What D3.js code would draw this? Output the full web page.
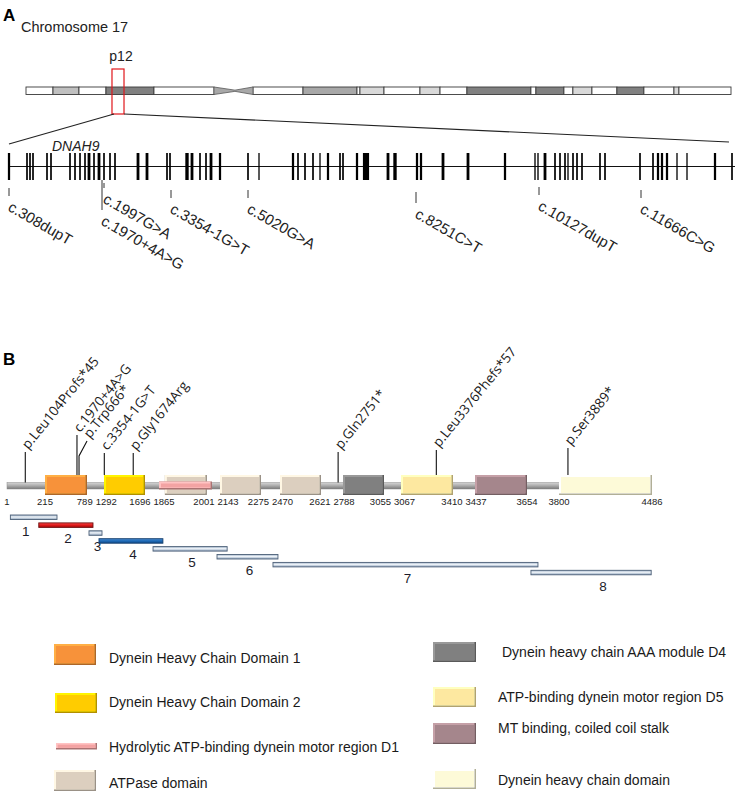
<!DOCTYPE html>
<html><head><meta charset="utf-8">
<script src="https://cdn.jsdelivr.net/npm/d3@7"></script>
<style>body{margin:0;background:#fff}svg{display:block}</style>
</head><body>
<svg id="fig" width="736" height="797"></svg>
<script>
// ================= DATA =================
// Chromosome 17 ideogram bands (Mb)
const bandStart = [0, 3.19, 6.26, 9.45, 15.12, 26.82, 32.73, 39.11, 39.46, 42.30, 46.55, 48.92, 52.10, 59.66, 60.25, 63.56, 64.62, 66.87, 69.82, 73.01, 76.56, 77.15];
const bandEnd   = [3.19, 6.26, 9.45, 15.12, 22.21, 32.73, 39.11, 39.46, 42.30, 46.55, 48.92, 52.10, 59.66, 60.25, 63.56, 64.62, 66.87, 69.82, 73.01, 76.56, 77.15, 83.3];
const bandStain = ["gneg","gpos50","gneg","gpos75","gneg","gneg","gpos66","gneg","gpos25","gneg","gpos25","gneg","gpos75","gneg","gpos75","gneg","gpos25","gneg","gpos75","gneg","gpos25","gneg"];
const centromere = [22.21, 24.69, 26.82];      // start, pinch, end (Mb)
const locus = [10.16, 11.58];                   // highlighted p12 region (Mb)
const chromName = "Chromosome 17";
const bandName = "p12";
const geneName = "DNAH9";

// DNAH9 exons: position along gene (kb) and exon size (bp, drawn width)
const exonPos = [0, 9, 10.5, 12, 19, 21, 30.5, 33, 35.5, 38, 40, 42.5, 45, 47.5, 50.5, 53, 64.5, 69, 79, 80.5, 89, 91.5, 95.5, 98.5, 101, 105.5, 119.5, 125, 142, 144.5, 148, 152, 155.5, 159.5, 165.5, 167, 174, 178.5, 189.5, 193, 204, 206, 217, 229.5, 248, 263, 264.5, 268, 273, 275.5, 278, 279.5, 282, 284, 286.5, 295.5, 298, 315.5, 322, 324.5, 326.5, 329, 334, 339, 353, 361.5];
const exonLen = [200, 150, 150, 150, 150, 150, 150, 150, 150, 150, 250, 150, 250, 150, 150, 150, 250, 250, 150, 150, 300, 250, 150, 150, 250, 200, 150, 80, 200, 150, 150, 150, 100, 200, 150, 150, 200, 550, 250, 300, 200, 200, 250, 250, 200, 120, 120, 250, 150, 150, 150, 100, 150, 150, 150, 150, 150, 150, 150, 200, 200, 200, 100, 100, 200, 150];

// Variants on the gene (kb)
const gMutLabel = ["c.308dupT", "c.1970+4A>G", "c.1997G>A", "c.3354-1G>T", "c.5020G>A", "c.8251C>T", "c.10127dupT", "c.11666C>G"];
const gMutPos   = [0, 46.5, 47.5, 81, 119.5, 203.5, 265, 316];

// Protein: boundary tick labels (aa)
const boundaries = [1, 215, 789, 1292, 1696, 1865, 2001, 2143, 2275, 2470, 2621, 2788, 3055, 3067, 3410, 3437, 3654, 3800, 4486];
// Domains (aa)
const domainType  = ["DHC1", "DHC2", "ATPase", "D1", "ATPase", "ATPase", "D4", "D5", "MT", "DHCd"];
const domainStart = [215, 1292, 1880, 1865, 2143, 2470, 2788, 3067, 3437, 3800];
const domainEnd   = [789, 1696, 1988, 2001, 2275, 2621, 3055, 3410, 3654, 4486];

// Protein variants (aa position as drawn)
const pMutLabel = ["p.Leu104Profs*45", "c.1970+4A>G", "p.Trp666*", "c.3354-1G>T", "p.Gly1674Arg", "p.Gln2751*", "p.Leu3376Phefs*57", "p.Ser3889*"];
const pMutPos   = [104, 652, 680, 1295, 1580, 2751, 3300, 3866];

// Fragments (aa)
const segLabel = ["1", "2", "3", "4", "5", "6", "7", "8"];
const segStart = [20, 180, 848, 1144, 1793, 2090, 2398, 3672];
const segEnd   = [379, 966, 1233, 1875, 2166, 2449, 3704, 4480];

// Legend
const legendType  = ["DHC1", "DHC2", "D1", "ATPase", "D4", "D5", "MT", "DHCd"];
const legendLabel = ["Dynein Heavy Chain Domain 1", "Dynein Heavy Chain Domain 2", "Hydrolytic ATP-binding dynein motor region D1", "ATPase domain",
                     "Dynein heavy chain AAA module D4", "ATP-binding dynein motor region D5", "MT binding, coiled coil stalk", "Dynein heavy chain domain"];

// ================= STYLE / LAYOUT =================
const stainColor = {gneg:"#ffffff", gpos25:"#d9d9d9", gpos50:"#c0c0c0", gpos66:"#a8a8a8", gpos75:"#808080"};
const domainColor = {DHC1:"#f7923a", DHC2:"#ffcc00", D1:"#f3a3a3", ATPase:"#dccfbf", D4:"#808080", D5:"#fde8a0", MT:"#a5868c", DHCd:"#fdfad8"};
const segColor = ["light","red","light","blue","light","light","light","light"];
const SANS = "'Liberation Sans', Arial, sans-serif";
const OPEN = "'Open Sans', 'Liberation Sans', sans-serif";

const svg = d3.select("#fig");
const defs = svg.append("defs");

function vGrad(id, stops) {
  const g = defs.append("linearGradient").attr("id", id).attr("x1",0).attr("y1",0).attr("x2",0).attr("y2",1);
  stops.forEach(([o,c]) => g.append("stop").attr("offset", o).attr("stop-color", c));
}
vGrad("rod", [[0,"#d6d6d6"],[0.45,"#b0b0b0"],[1,"#7a7a7a"]]);
vGrad("segLight", [[0,"#9fb2c8"],[0.45,"#eef3f8"],[1,"#8ea3bc"]]);
vGrad("segRed", [[0,"#ff4a4a"],[0.5,"#e01a1a"],[1,"#a00d0d"]]);
vGrad("segBlue", [[0,"#4a8ad0"],[0.5,"#1e6bb8"],[1,"#124a88"]]);

function bevel(g, x, y, w, h, color) {
  const c = d3.color(color);
  g.append("rect").attr("x", x).attr("y", y).attr("width", w).attr("height", h).attr("fill", c.darker(1.0));
  g.append("rect").attr("x", x).attr("y", y).attr("width", w - 1.5).attr("height", h - 1.5).attr("fill", c.brighter(0.5));
  const b = Math.min(2, h / 4);
  g.append("rect").attr("x", x + b).attr("y", y + b).attr("width", w - 2 * b).attr("height", h - 2 * b).attr("fill", color);
}

// ================= PANEL A =================
svg.append("text").attr("x", 3).attr("y", 21).attr("font-family", SANS).attr("font-weight", "bold").attr("font-size", 17).text("A");
svg.append("text").attr("x", 21).attr("y", 32).attr("font-family", SANS).attr("font-size", 14.5).attr("fill", "#222").text(chromName);

const xC = d3.scaleLinear().domain([0, 83.3]).range([26, 731]);
const cTop = 87, cH = 7.5;
const gA = svg.append("g");
bandStart.forEach((s, i) => {
  gA.append("rect").attr("x", xC(s)).attr("y", cTop).attr("width", xC(bandEnd[i]) - xC(s)).attr("height", cH)
    .attr("fill", stainColor[bandStain[i]]).attr("stroke", "#3a3a3a").attr("stroke-width", 0.9);
});
// centromere
const [c0, cm, c1] = centromere.map(xC);
gA.append("path").attr("d", `M${c0},${cTop}L${cm},${cTop + cH / 2 - 0.6}L${c1},${cTop}L${c1},${cTop + cH}L${cm},${cTop + cH / 2 + 0.6}L${c0},${cTop + cH}Z`)
  .attr("fill", "#a8a8a8").attr("stroke", "#555").attr("stroke-width", 0.8);

// locus highlight
const lx0 = xC(locus[0]), lx1 = xC(locus[1]);
svg.append("text").attr("x", (lx0 + lx1) / 2 + 3).attr("y", 61).attr("text-anchor", "middle").attr("font-family", SANS).attr("font-size", 14).attr("fill", "#222").text(bandName);
svg.append("rect").attr("x", lx0).attr("y", 69).attr("width", lx1 - lx0).attr("height", 45).attr("fill", "none").attr("stroke", "#e0161b").attr("stroke-width", 1.2);

// gene
const xG = d3.scaleLinear().domain([0, 362]).range([9, 733]);
const wEx = d3.scaleLinear().domain([0, 500]).range([0, 5.6]);
const geneY = 166.5;
svg.append("line").attr("x1", lx0 + 2).attr("y1", 114).attr("x2", xG(0)).attr("y2", 144).attr("stroke", "#222").attr("stroke-width", 1.2);
svg.append("line").attr("x1", lx1).attr("y1", 114).attr("x2", xG(360)).attr("y2", 142).attr("stroke", "#222").attr("stroke-width", 1.2);
svg.append("text").attr("x", 52).attr("y", 151).attr("font-family", SANS).attr("font-style", "italic").attr("font-size", 14).attr("fill", "#222").text(geneName);
svg.append("line").attr("x1", xG(0)).attr("x2", xG(362) + 2).attr("y1", geneY).attr("y2", geneY).attr("stroke", "#111").attr("stroke-width", 1);
svg.append("g").selectAll("rect").data(exonPos).join("rect")
  .attr("x", (d, i) => xG(d) - Math.max(1.3, wEx(exonLen[i])) / 2).attr("y", 153).attr("width", (d, i) => Math.max(1.3, wEx(exonLen[i]))).attr("height", 27)
  .attr("fill", "#000");

// gene variants (layout: tick extents)
const gTick = [[188,196],[180,210],[183,188],[190,198],[190,198],[192,203],[187,195],[190,198]];
gMutPos.forEach((p, i) => {
  const x = xG(p);
  svg.append("line").attr("x1", x).attr("x2", x).attr("y1", gTick[i][0]).attr("y2", gTick[i][1]).attr("stroke", "#333").attr("stroke-width", 1);
  svg.append("text").attr("transform", `translate(${x - 2},${gTick[i][1] + 14}) rotate(30)`)
    .attr("font-family", SANS).attr("font-size", 15).attr("fill", "#222").text(gMutLabel[i]);
});

// ================= PANEL B =================
svg.append("text").attr("x", 3).attr("y", 365).attr("font-family", SANS).attr("font-weight", "bold").attr("font-size", 17).text("B");

const boundaryX = [7, 45, 87, 104, 145, 159, 212, 220, 261, 280, 321, 343, 384, 401, 453, 475, 527, 559, 652];
const xP = d3.scaleLinear().domain(boundaries).range(boundaryX);
const boxTop = 475, boxH = 20, rodY = 482.5, rodH = 6.5;

svg.append("rect").attr("x", xP(1)).attr("y", rodY).attr("width", xP(3800) - xP(1) + 2).attr("height", rodH)
  .attr("fill", "url(#rod)").attr("stroke", "#8a8a8a").attr("stroke-width", 0.5);

const gD = svg.append("g");
domainType.forEach((t, i) => {
  const x0 = xP(domainStart[i]), x1 = xP(domainEnd[i]);
  if (t === "D1") bevel(gD, x0, rodY - 1, x1 - x0, 8, domainColor[t]);
  else bevel(gD, x0, boxTop, x1 - x0, boxH, domainColor[t]);
});

// boundary labels with simple collision relaxation
const fs = 9.5;
const lab = boundaries.map(v => ({v, x: xP(v), w: String(v).length * fs * 0.556}));
for (let it = 0; it < 40; it++) {
  for (let i = 0; i < lab.length - 1; i++) {
    const a = lab[i], b = lab[i + 1];
    const ov = (a.x + a.w / 2 + 3) - (b.x - b.w / 2);
    if (ov > 0) { a.x -= ov / 2; b.x += ov / 2; }
  }
}
svg.append("g").selectAll("text").data(lab).join("text")
  .attr("x", d => d.x).attr("y", 505).attr("text-anchor", "middle")
  .attr("font-family", SANS).attr("font-size", fs).attr("fill", "#222").text(d => d.v);

// protein variants (layout: stem top, optional bend)
const stemTop = [452, 435, 456, 453, 453, 452, 450, 448];
const stemBend = [null, null, [8, -15], null, null, null, null, null];
const inBox = p => domainType.some((t, i) => t !== "D1" && p >= domainStart[i] && p <= domainEnd[i]);
pMutPos.forEach((p, i) => {
  const x = xP(p);
  const bottom = inBox(p) ? boxTop : rodY;
  let tx = x, ty = stemTop[i];
  let d = `M${x},${bottom}L${x},${stemTop[i]}`;
  if (stemBend[i]) { tx = x + stemBend[i][0]; ty = stemTop[i] + stemBend[i][1]; d += `L${tx},${ty}`; }
  svg.append("path").attr("d", d).attr("fill", "none").attr("stroke", "#111").attr("stroke-width", 1.1);
  svg.append("text").attr("transform", `translate(${tx + 3},${ty - 2}) rotate(-51)`)
    .attr("font-family", OPEN).attr("font-size", 13.5).attr("fill", "#1a1a1a").text(pMutLabel[i]);
});

// fragments
segStart.forEach((s, i) => {
  const x0 = xP(s), x1 = xP(segEnd[i]);
  const y = 515 + i * 7.9;
  const kind = segColor[i];
  svg.append("rect").attr("x", x0).attr("y", y).attr("width", x1 - x0).attr("height", 4.5)
    .attr("fill", kind === "red" ? "url(#segRed)" : kind === "blue" ? "url(#segBlue)" : "url(#segLight)")
    .attr("stroke", kind === "red" ? "#6b1010" : kind === "blue" ? "#143e6c" : "#4d6078").attr("stroke-width", 0.9);
  svg.append("text").attr("x", (x0 + x1) / 2 + (i === 0 ? -8 : i === 7 ? 12 : 2)).attr("y", y + 20.5).attr("text-anchor", "middle")
    .attr("font-family", SANS).attr("font-size", 13.5).attr("fill", "#1c1c2a").text(segLabel[i]);
});

// ================= LEGEND =================
const legLayout = [
  {sx: 54, sy: 644, sw: 42, sh: 21, tx: 109, ty: 663},
  {sx: 55, sy: 693, sw: 42, sh: 20, tx: 109, ty: 707},
  {sx: 56, sy: 743, sw: 41, sh: 6.5, tx: 109, ty: 752},
  {sx: 54, sy: 770, sw: 42, sh: 21, tx: 109, ty: 788},
  {sx: 433, sy: 642, sw: 43, sh: 20, tx: 502, ty: 657},
  {sx: 433, sy: 687, sw: 43, sh: 20, tx: 498, ty: 702},
  {sx: 433, sy: 723, sw: 43, sh: 21, tx: 498, ty: 733},
  {sx: 433, sy: 769, sw: 43, sh: 20, tx: 498, ty: 785}
];
legendType.forEach((t, i) => {
  const L = legLayout[i];
  bevel(svg, L.sx, L.sy, L.sw, L.sh, domainColor[t]);
  svg.append("text").attr("x", L.tx).attr("y", L.ty).attr("font-family", SANS).attr("font-size", 14).attr("fill", "#1a1a1a").text(legendLabel[i]);
});
</script>
</body></html>
